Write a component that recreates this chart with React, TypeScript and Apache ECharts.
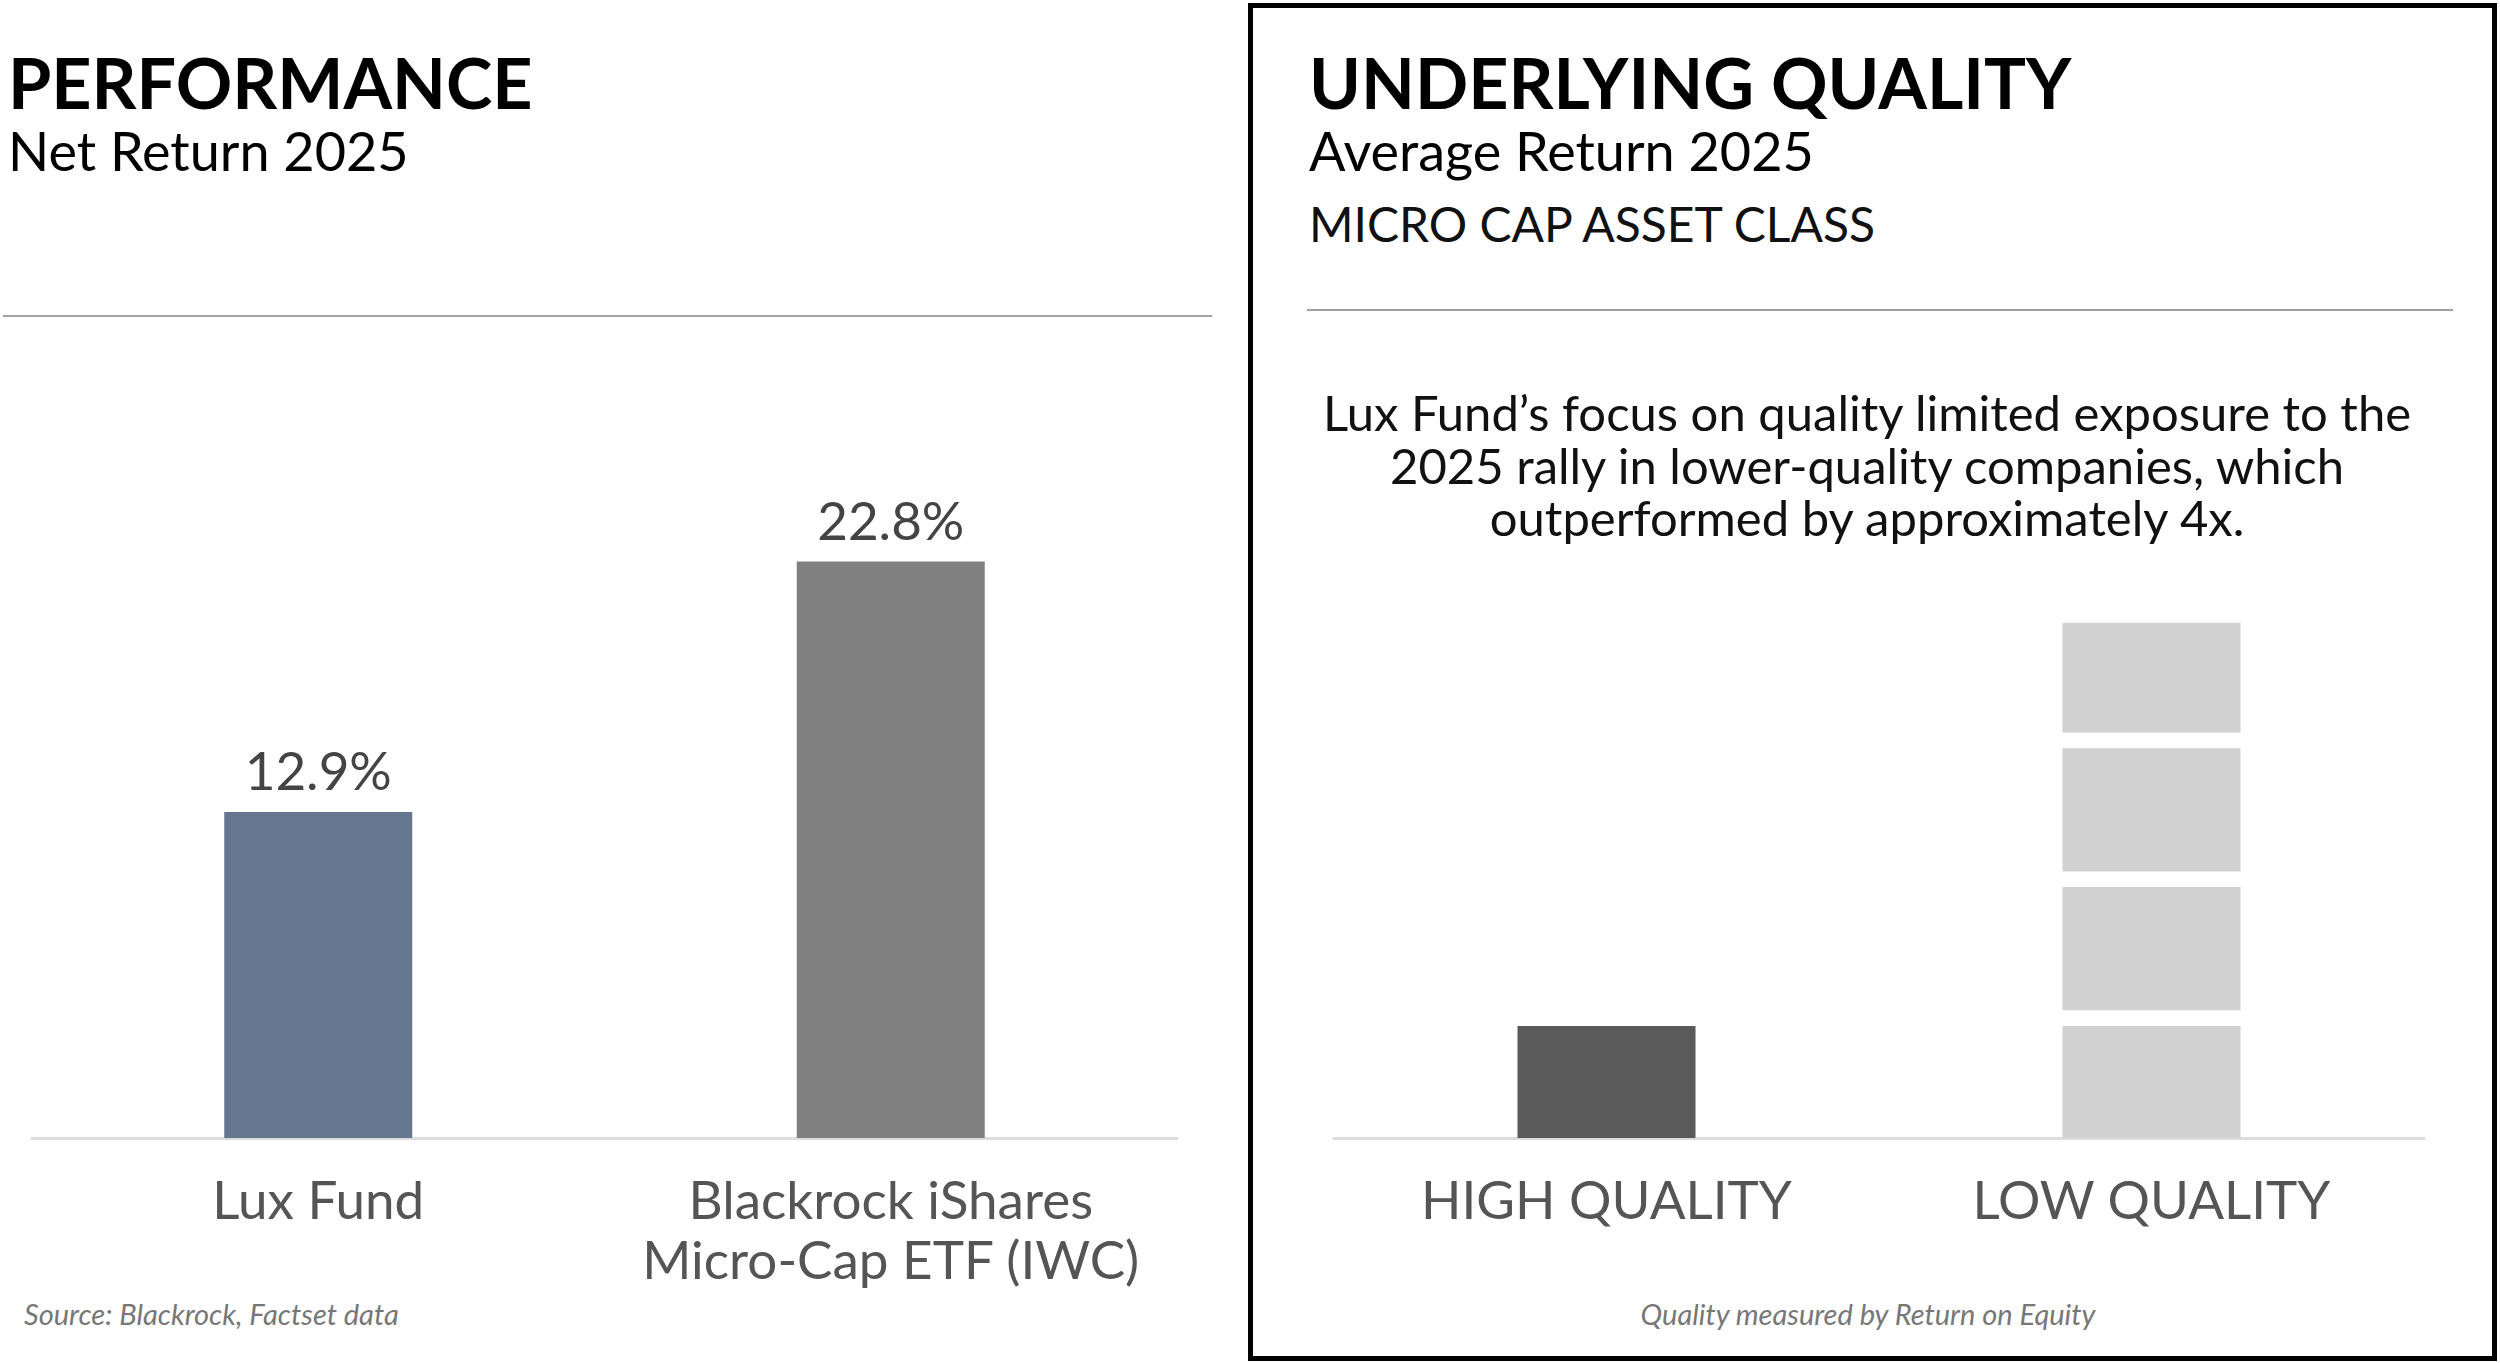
import React, { useEffect, useRef } from "react";
import * as echarts from "echarts";

const PERF_CATEGORIES = ["Lux Fund", "Blackrock iShares\nMicro-Cap ETF (IWC)"];
const PERF_VALUES = [12.9, 22.8];
const PERF_COLORS = ["#65768f", "#808080"];

const QUALITY_CATEGORIES = ["HIGH QUALITY", "LOW QUALITY"];
const HIGH_QUALITY_VALUE = 1.0;
const LOW_QUALITY_SEGMENTS = [1.0, 1.1, 1.1, 0.98];
const SEGMENT_GAP = 0.14;

const PARAGRAPH_LINES = [
  "Lux Fund\u2019s focus on quality limited exposure to the",
  "2025 rally in lower-quality companies, which",
  "outperformed by approximately 4x.",
];

const FONT = "Lato";

export default function App() {
  const ref = useRef<HTMLDivElement>(null);
  useEffect(() => {
    document.body.style.margin = "0";
    const chart = echarts.init(ref.current!, null, { renderer: "svg" });

    const qualitySeries: any[] = [
      {
        type: "bar",
        xAxisIndex: 1,
        yAxisIndex: 1,
        stack: "q",
        barWidth: 178,
        data: [HIGH_QUALITY_VALUE, "-"],
        itemStyle: { color: "#5a5a5a" },
      },
    ];
    LOW_QUALITY_SEGMENTS.forEach((v, i) => {
      qualitySeries.push({
        type: "bar",
        xAxisIndex: 1,
        yAxisIndex: 1,
        stack: "q",
        barWidth: 178,
        data: ["-", v],
        itemStyle: { color: "#d1d1d1" },
      });
      if (i < LOW_QUALITY_SEGMENTS.length - 1) {
        qualitySeries.push({
          type: "bar",
          xAxisIndex: 1,
          yAxisIndex: 1,
          stack: "q",
          barWidth: 178,
          data: ["-", SEGMENT_GAP],
          itemStyle: { color: "rgba(0,0,0,0)" },
          silent: true,
        });
      }
    });

    const txt = (text: string, x: number, y: number, font: string, fill: string, align = "left") => ({
      type: "text",
      x,
      y,
      style: {
        text,
        font,
        fill,
        align,
        verticalAlign: "middle",
        textAlign: align,
        textVerticalAlign: "middle",
      },
    });

    const axisLabel = {
      interval: 0,
      fontSize: 53,
      lineHeight: 60,
      color: "#555555",
      margin: 30,
      fontFamily: FONT,
    };

    const option: any = {
      animation: false,
      backgroundColor: "#ffffff",
      textStyle: { fontFamily: FONT },
      grid: [
        { left: 32, right: 1323, top: 506, bottom: 225 },
        { left: 1334, right: 76, top: 578, bottom: 225 },
      ],
      xAxis: [
        {
          type: "category",
          gridIndex: 0,
          data: PERF_CATEGORIES,
          axisTick: { show: false },
          axisLine: { lineStyle: { color: "#dcdcdc", width: 3 } },
          axisLabel,
        },
        {
          type: "category",
          gridIndex: 1,
          data: QUALITY_CATEGORIES,
          axisTick: { show: false },
          axisLine: { lineStyle: { color: "#dcdcdc", width: 3 } },
          axisLabel,
        },
      ],
      yAxis: [
        { type: "value", gridIndex: 0, min: 0, max: 25, show: false, splitLine: { show: false } },
        { type: "value", gridIndex: 1, min: 0, max: 5, show: false, splitLine: { show: false } },
      ],
      series: [
        {
          type: "bar",
          xAxisIndex: 0,
          yAxisIndex: 0,
          barWidth: 188,
          data: PERF_VALUES.map((v, i) => ({ value: v, itemStyle: { color: PERF_COLORS[i] } })),
          label: {
            show: true,
            position: "top",
            distance: 16,
            formatter: "{c}%",
            fontSize: 53,
            color: "#444444",
            fontFamily: FONT,
          },
        },
        ...qualitySeries,
      ],
      graphic: [
        {
          type: "rect",
          shape: { x: 1250.5, y: 5.5, width: 1244, height: 1353 },
          style: { fill: "none", stroke: "#000000", lineWidth: 5 },
          silent: true,
        },
        {
          type: "line",
          shape: { x1: 3, y1: 316, x2: 1212, y2: 316 },
          style: { stroke: "#a0a0a0", lineWidth: 2 },
        },
        {
          type: "line",
          shape: { x1: 1307, y1: 310, x2: 2453, y2: 310 },
          style: { stroke: "#a0a0a0", lineWidth: 2 },
        },
        txt("PERFORMANCE", 8, 82, `bold 70px ${FONT}`, "#000000"),
        txt("Net Return 2025", 8, 150, `54px ${FONT}`, "#000000"),
        txt("UNDERLYING QUALITY", 1309, 82, `bold 70px ${FONT}`, "#000000"),
        txt("Average Return 2025", 1309, 150, `54px ${FONT}`, "#000000"),
        txt("MICRO CAP ASSET CLASS", 1309, 223, `48px ${FONT}`, "#111111"),
        ...PARAGRAPH_LINES.map((l, i) => txt(l, 1867, 412 + i * 52.5, `49px ${FONT}`, "#111111", "center")),
        txt("Source: Blackrock, Factset data", 24, 1313, `italic 29px ${FONT}`, "#777777"),
        txt("Quality measured by Return on Equity", 1868, 1313, `italic 29px ${FONT}`, "#777777", "center"),
      ],
    };
    chart.setOption(option);
    return () => chart.dispose();
  }, []);
  return (
    <div
      ref={ref}
      style={{ position: "absolute", left: 0, top: 0, width: 2500, height: 1363, background: "#fff" }}
    />
  );
}
